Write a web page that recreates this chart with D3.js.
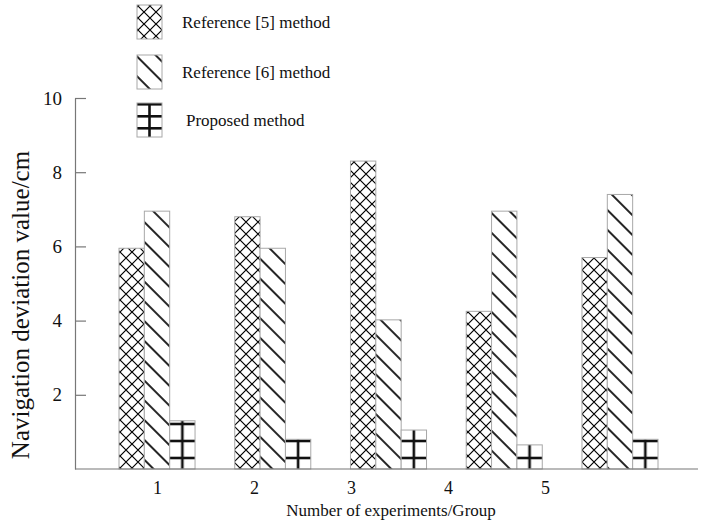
<!DOCTYPE html>
<html>
<head>
<meta charset="utf-8">
<script src="https://cdn.jsdelivr.net/npm/d3@7/dist/d3.min.js"></script>
<style>
  html, body { margin: 0; padding: 0; background: #fff; }
  svg { display: block; }
  svg text { font-family: "Liberation Serif", Tinos, "Times New Roman", Times, "DejaVu Serif", serif !important; fill: #111; }
</style>
</head>
<body>
<svg id="chart" width="701" height="524"></svg>
<script>
const categories = ["1", "2", "3", "4", "5"];
const seriesNames = ["Reference [5] method", "Reference [6] method", "Proposed method"];
const ref5Values = [5.95, 6.8, 8.3, 4.25, 5.7];
const ref6Values = [6.95, 5.95, 4.02, 6.95, 7.4];
const proposedValues = [1.3, 0.8, 1.05, 0.65, 0.8];
const yTickValues = [2, 4, 6, 8, 10];
const xTitle = "Number of experiments/Group";
const yTitle = "Navigation deviation value/cm";

const series = [ref5Values, ref6Values, proposedValues];
const patternKinds = ["cross", "diag", "grid"];

const svg = d3.select("#chart");
const defs = svg.append("defs");

const axisLeftX = 75, axisRightX = 698;
const y = d3.scaleLinear().domain([0, 10]).range([469, 98]);
const x0 = d3.scaleBand().domain(categories).range([119, 658]).paddingInner(0.343).paddingOuter(0);
const x1 = d3.scaleBand().domain(seriesNames).range([0, x0.bandwidth()]).padding(0);
const xLabel = d3.scalePoint().domain(categories).range([157, 545]);

// cross-hatch pattern
const pc = defs.append("pattern").attr("id", "cross").attr("patternUnits", "userSpaceOnUse")
  .attr("width", 12).attr("height", 12);
pc.append("rect").attr("width", 12).attr("height", 12).attr("fill", "#fff");
pc.append("path").attr("d", "M0,0L12,12M12,0L0,12").attr("stroke", "#000").attr("stroke-width", 1.2);

// diagonal (backslash) pattern
const pd = defs.append("pattern").attr("id", "diag").attr("patternUnits", "userSpaceOnUse")
  .attr("width", 14).attr("height", 14).attr("patternTransform", "rotate(-45)");
pd.append("rect").attr("width", 14).attr("height", 14).attr("fill", "#fff");
pd.append("line").attr("x1", 1).attr("y1", 0).attr("x2", 1).attr("y2", 14)
  .attr("stroke", "#000").attr("stroke-width", 1.7);

function gridPattern(id, px, py, w, period, offset) {
  const p = defs.append("pattern").attr("id", id).attr("patternUnits", "userSpaceOnUse")
    .attr("x", px).attr("y", py).attr("width", w).attr("height", period);
  p.append("rect").attr("width", w).attr("height", period).attr("fill", "#fff");
  p.append("line").attr("x1", w / 2).attr("x2", w / 2).attr("y1", 0).attr("y2", period)
    .attr("stroke", "#111").attr("stroke-width", 2.6);
  p.append("line").attr("x1", 0).attr("x2", w).attr("y1", offset).attr("y2", offset)
    .attr("stroke", "#111").attr("stroke-width", 2.6);
}

// bars
const bars = [];
categories.forEach((c, i) => {
  series.forEach((vals, s) => {
    bars.push({ cat: c, idx: i, s: s, name: seriesNames[s], value: vals[i] });
  });
});
bars.filter(d => d.s === 2).forEach(d => {
  gridPattern("grid-" + d.idx, x0(d.cat) + x1(d.name), y(0), x1.bandwidth(), 17, 6);
});

svg.append("g").selectAll("rect").data(bars).join("rect")
  .attr("x", d => x0(d.cat) + x1(d.name))
  .attr("y", d => y(d.value))
  .attr("width", x1.bandwidth())
  .attr("height", d => y(0) - y(d.value))
  .attr("fill", d => d.s === 2 ? `url(#grid-${d.idx})` : `url(#${patternKinds[d.s]})`)
  .attr("stroke", "#a8a8a8").attr("stroke-width", 1);

// y axis
const yAxis = d3.axisLeft(y).tickValues(yTickValues).tickSizeInner(-11).tickSizeOuter(0).tickPadding(13)
  .tickFormat(d3.format("d"));
const gy = svg.append("g").attr("transform", `translate(${axisLeftX},0)`).call(yAxis)
  .attr("font-family", null);
gy.select(".domain").attr("stroke", "#777").attr("stroke-width", 1.2);
gy.selectAll(".tick line").attr("stroke", "#777").attr("stroke-width", 1.2);
gy.selectAll(".tick text").attr("font-size", 19).attr("fill", "#111");

// baseline
svg.append("line").attr("x1", axisLeftX).attr("x2", axisRightX).attr("y1", y(0)).attr("y2", y(0))
  .attr("stroke", "#777").attr("stroke-width", 1.2);

// x axis labels
const xAxis = d3.axisBottom(xLabel).tickSize(0).tickPadding(12);
const gx = svg.append("g").attr("transform", `translate(0,${y(0)})`).call(xAxis)
  .attr("font-family", null);
gx.select(".domain").remove();
gx.selectAll(".tick text").attr("font-size", 18).attr("fill", "#111");

// titles
svg.append("text").attr("x", 391).attr("y", 516).attr("text-anchor", "middle")
  .attr("font-size", 17).text(xTitle);
svg.append("text").attr("transform", "translate(29,305) rotate(-90)").attr("text-anchor", "middle")
  .attr("font-size", 25).text(yTitle);

// legend
const legendY = [5, 55, 103];
const legendTextX = [182, 182, 186];
const lg = svg.append("g");
gridPattern("grid-legend", 137, 103, 25, 12, 1.3);
seriesNames.forEach((name, s) => {
  lg.append("rect").attr("x", 137).attr("y", legendY[s]).attr("width", 25).attr("height", 34)
    .attr("fill", s === 2 ? "url(#grid-legend)" : `url(#${patternKinds[s]})`)
    .attr("stroke", "#a8a8a8").attr("stroke-width", 1);
  lg.append("text").attr("x", legendTextX[s]).attr("y", legendY[s] + 17).attr("dy", "0.35em")
    .attr("font-size", 17).text(name);
});
</script>
</body>
</html>
